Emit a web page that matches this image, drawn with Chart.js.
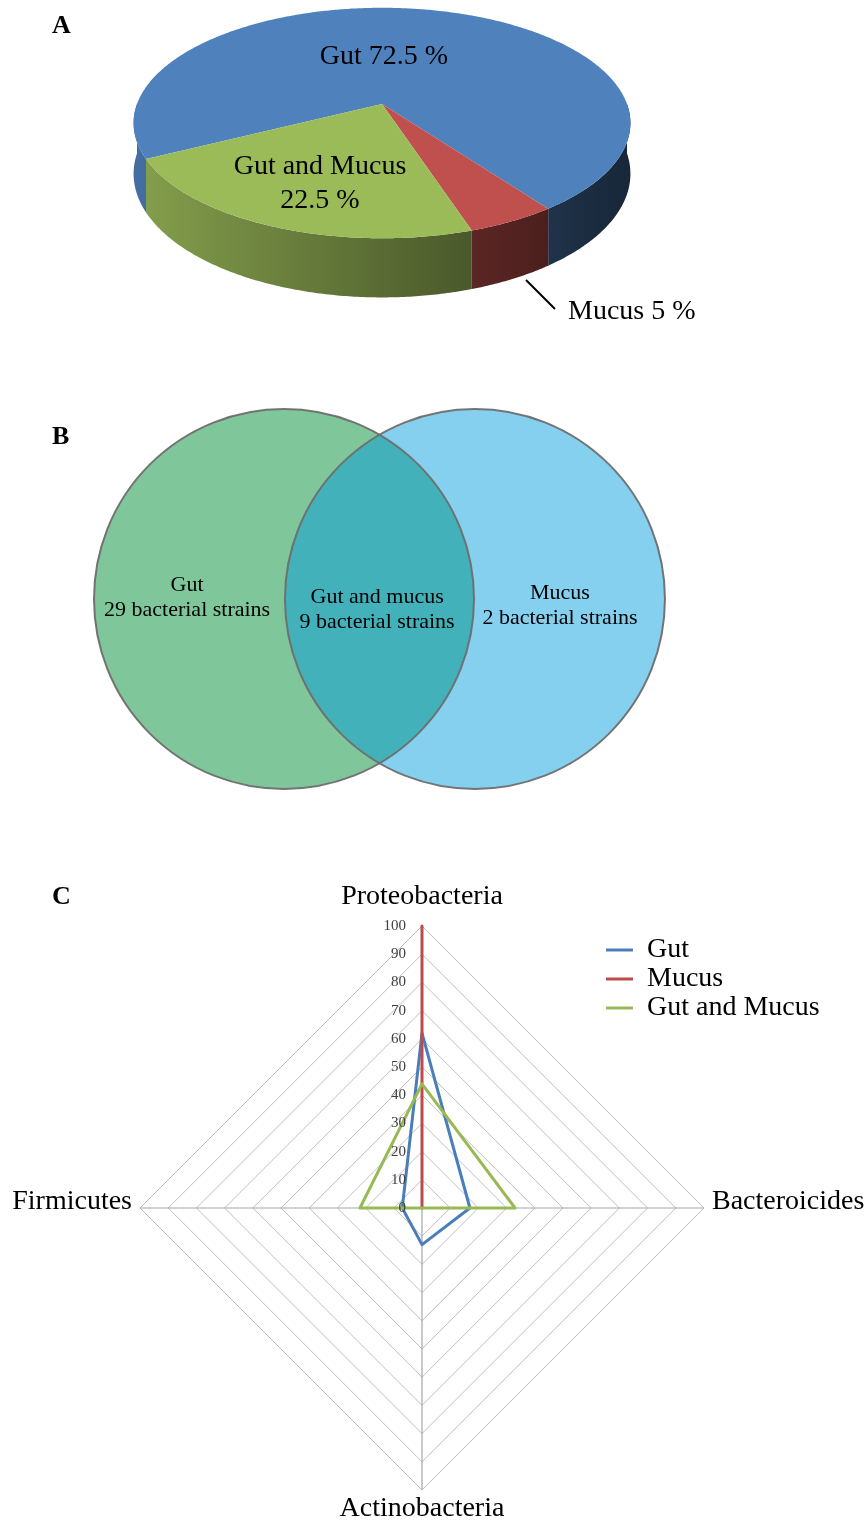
<!DOCTYPE html>
<html><head><meta charset="utf-8">
<script src="https://cdn.jsdelivr.net/npm/chart.js@4.4.1/dist/chart.umd.min.js"></script>
<style>
html,body{margin:0;padding:0;background:#fff;}
#wrap{position:relative;width:867px;height:1522px;overflow:hidden;font-family:'Liberation Serif','Times New Roman',serif;}
canvas{position:absolute;left:0;}
.panel{position:absolute;left:52px;font-weight:bold;font-size:26px;line-height:1;color:#000;}
</style></head><body>
<div id="wrap">
<canvas id="pie" width="867" height="340" style="top:0"></canvas>
<canvas id="venn" width="867" height="490" style="top:340px"></canvas>
<canvas id="radar" width="867" height="692" style="top:830px"></canvas>
<div class="panel" style="top:12px">A</div>
<div class="panel" style="top:423px">B</div>
<div class="panel" style="top:883px">C</div>
</div>
<script>
// ---------- data ----------
const pieLabels = ['Gut', 'Mucus', 'Gut and Mucus'];
const pieValues = [72.5, 5, 22.5];
const pieColors = ['#4f81bd', '#c0504d', '#9bbb59'];

const vennSets = ['Gut', 'Mucus'];
const vennCentersX = [-1, 1.01];
const vennRadius = 2;
const vennLabels = ['Gut', 'Gut and mucus', 'Mucus'];
const vennStrains = [29, 9, 2];

const phyla = ['Proteobacteria', 'Bacteroicides', 'Actinobacteria', 'Firmicutes'];
const seriesNames = ['Gut', 'Mucus', 'Gut and Mucus'];
const gutValues = [62, 17, 13, 7];
const mucusValues = [100, 0, 0, 0];
const gutMucusValues = [44, 33, 0, 22];
const radarMin = 0, radarMax = 100, radarStep = 10;

const SERIF = '"Liberation Serif","Times New Roman",serif';

function shade(hex, f) {
  const n = parseInt(hex.slice(1), 16);
  const r = (n >> 16) & 255, g = (n >> 8) & 255, b = n & 255;
  return 'rgb(' + Math.round(r * f) + ',' + Math.round(g * f) + ',' + Math.round(b * f) + ')';
}

// ---------- A: 3D pie (perspective projection of the library's arcs) ----------
const TILT = 0.4576, PERSP = 0.165, DEPTH_RATIO = 0.2016;
const pie3d = {
  id: 'pie3d',
  beforeDatasetsDraw(chart) {
    const ctx = chart.ctx;
    const arcs = chart.getDatasetMeta(0).data;
    const cx = arcs[0].x, cy = arcs[0].y, R = arcs[0].outerRadius;
    const ry = R * TILT, D = R * DEPTH_RATIO;
    const P = (a, dz) => {
      const g = 1 / (1 - PERSP * Math.sin(a));
      return [cx + R * Math.cos(a) * g, cy + (ry * Math.sin(a) + dz) * g];
    };
    const trace = (s, e, dz, first) => {
      const n = Math.max(2, Math.ceil(Math.abs(e - s) / 0.01));
      for (let j = 0; j <= n; j++) {
        const p = P(s + (e - s) * j / n, dz);
        if (first && j === 0) ctx.moveTo(p[0], p[1]); else ctx.lineTo(p[0], p[1]);
      }
    };
    const cols = chart.data.datasets[0].backgroundColor;
    const TAU = Math.PI * 2;
    ctx.save();
    arcs.forEach((arc, i) => {
      for (let k = -2; k <= 2; k++) {
        const s = Math.max(arc.startAngle, k * TAU);
        const e = Math.min(arc.endAngle, k * TAU + Math.PI);
        if (e <= s) continue;
        const g = ctx.createLinearGradient(cx - R, 0, cx + R, 0);
        g.addColorStop(0, shade(cols[i], 0.85));
        g.addColorStop(1, shade(cols[i], 0.3));
        ctx.beginPath();
        trace(s, e, 0, true);
        trace(e, s, D, false);
        ctx.closePath();
        ctx.fillStyle = g;
        ctx.fill();
      }
    });
    arcs.forEach((arc, i) => {
      ctx.beginPath();
      ctx.moveTo(cx, cy);
      trace(arc.startAngle, arc.endAngle, 0, false);
      ctx.closePath();
      ctx.fillStyle = cols[i];
      ctx.fill();
    });
    ctx.restore();
    return false;
  },
  afterDraw(chart) {
    const ctx = chart.ctx;
    ctx.save();
    ctx.fillStyle = '#000';
    ctx.font = '28px ' + SERIF;
    ctx.textAlign = 'center';
    ctx.textBaseline = 'middle';
    ctx.fillText(pieLabels[0] + ' ' + pieValues[0] + ' %', 384, 57);
    ctx.fillText(pieLabels[2], 320, 167);
    ctx.fillText(pieValues[2] + ' %', 320, 201);
    ctx.textAlign = 'left';
    ctx.fillText(pieLabels[1] + ' ' + pieValues[1] + ' %', 568, 312);
    ctx.strokeStyle = '#000';
    ctx.lineWidth = 2;
    ctx.beginPath();
    ctx.moveTo(526, 280);
    ctx.lineTo(555, 309);
    ctx.stroke();
    ctx.restore();
  }
};

new Chart(document.getElementById('pie'), {
  type: 'pie',
  data: { labels: pieLabels, datasets: [{ data: pieValues, backgroundColor: pieColors, borderWidth: 0 }] },
  options: {
    responsive: false, animation: false,
    rotation: -117,
    radius: 245,
    layout: { padding: { left: 0, right: 103, top: 0, bottom: 132 } },
    plugins: { legend: { display: false }, tooltip: { enabled: false } }
  },
  plugins: [pie3d]
});

// ---------- B: Venn ----------
const vennDecor = {
  id: 'vennDecor',
  afterDatasetsDraw(chart) {
    const ctx = chart.ctx;
    ctx.save();
    ctx.strokeStyle = 'rgba(110,110,110,0.95)';
    ctx.lineWidth = 2;
    chart.getDatasetMeta(0).data.forEach(el => {
      ctx.beginPath();
      ctx.arc(el.x, el.y, el.options.radius, 0, Math.PI * 2);
      ctx.stroke();
    });
    ctx.restore();
  },
  afterDraw(chart) {
    const ctx = chart.ctx, sx = chart.scales.x, sy = chart.scales.y;
    const pos = [{ x: -2.02, y: 0.147 }, { x: -0.02, y: 0.021 }, { x: 1.905, y: 0.063 }];
    ctx.save();
    ctx.fillStyle = '#000';
    ctx.font = '22px ' + SERIF;
    ctx.textAlign = 'center';
    ctx.textBaseline = 'middle';
    vennLabels.forEach((lab, i) => {
      const px = sx.getPixelForValue(pos[i].x), py = sy.getPixelForValue(pos[i].y);
      ctx.fillText(lab, px, py);
      ctx.fillText(vennStrains[i] + ' bacterial strains', px, py + 25);
    });
    ctx.restore();
  }
};

const vennChart = new Chart(document.getElementById('venn'), {
  type: 'bubble',
  data: {
    datasets: [{
      label: 'Venn',
      data: vennSets.map((s, i) => ({ x: vennCentersX[i], y: 0, r: 1 })),
      backgroundColor: ['rgba(0,143,53,0.5)', 'rgba(0,155,222,0.48)'],
      borderWidth: 0
    }]
  },
  options: {
    responsive: false, animation: false,
    clip: false,
    layout: { padding: 0, autoPadding: false },
    scales: {
      x: { type: 'linear', min: -3.9895, max: 5.1368, display: false },
      y: { type: 'linear', min: -2.4316, max: 2.7263, display: false }
    },
    plugins: { legend: { display: false }, tooltip: { enabled: false } }
  },
  plugins: [vennDecor]
});
{
  const sx = vennChart.scales.x;
  const rpx = sx.getPixelForValue(vennRadius) - sx.getPixelForValue(0);
  vennChart.data.datasets[0].data.forEach(d => { d.r = rpx; });
  vennChart.update('none');
}

// ---------- C: Radar ----------
const radarDecor = {
  id: 'radarDecor',
  afterDraw(chart) {
    const r = chart.scales.r, ctx = chart.ctx;
    ctx.save();
    ctx.fillStyle = '#404040';
    ctx.font = '15px ' + SERIF;
    ctx.textAlign = 'right';
    ctx.textBaseline = 'middle';
    r.ticks.forEach(t => {
      const d = r.getDistanceFromCenterForValue(t.value);
      ctx.fillText(String(t.value), r.xCenter - 16, r.yCenter - d);
    });
    ctx.fillStyle = '#000';
    ctx.font = '28px ' + SERIF;
    chart.data.labels.forEach((lab, i) => {
      const p = r.getPointPosition(i, r.drawingArea);
      if (i === 0) { ctx.textAlign = 'center'; ctx.textBaseline = 'alphabetic'; ctx.fillText(lab, p.x, p.y - 22); }
      else if (i === 1) { ctx.textAlign = 'left'; ctx.textBaseline = 'middle'; ctx.fillText(lab, p.x + 8, p.y - 6); }
      else if (i === 2) { ctx.textAlign = 'center'; ctx.textBaseline = 'alphabetic'; ctx.fillText(lab, p.x, p.y + 26); }
      else { ctx.textAlign = 'right'; ctx.textBaseline = 'middle'; ctx.fillText(lab, p.x - 8, p.y - 6); }
    });
    ctx.textAlign = 'left';
    ctx.textBaseline = 'middle';
    chart.data.datasets.forEach((ds, i) => {
      const y = 120 + i * 29;
      ctx.strokeStyle = ds.borderColor;
      ctx.lineWidth = 3;
      ctx.beginPath();
      ctx.moveTo(606, y);
      ctx.lineTo(633, y);
      ctx.stroke();
      ctx.fillStyle = '#000';
      ctx.fillText(ds.label, 647, y);
    });
    ctx.restore();
  }
};

const seriesValues = [gutValues, mucusValues, gutMucusValues];
const seriesColors = ['#4a7ebb', '#be4b48', '#98b954'];
new Chart(document.getElementById('radar'), {
  type: 'radar',
  data: {
    labels: phyla,
    datasets: seriesNames.map((n, i) => ({
      label: n,
      data: seriesValues[i],
      borderColor: seriesColors[i],
      backgroundColor: 'rgba(0,0,0,0)',
      borderWidth: 3,
      pointRadius: 0,
      fill: false,
      borderJoinStyle: 'round',
      order: 2 - i
    }))
  },
  options: {
    responsive: false, animation: false,
    layout: { padding: { left: 140, right: 163, top: 96, bottom: 32 } },
    plugins: { legend: { display: false }, tooltip: { enabled: false } },
    scales: {
      r: {
        min: radarMin, max: radarMax,
        ticks: { stepSize: radarStep, display: false },
        pointLabels: { display: false },
        grid: { color: '#bfbfbf', lineWidth: 1 },
        angleLines: { color: '#a6a6a6', lineWidth: 1.2 }
      }
    }
  },
  plugins: [radarDecor]
});
</script>
</body></html>
